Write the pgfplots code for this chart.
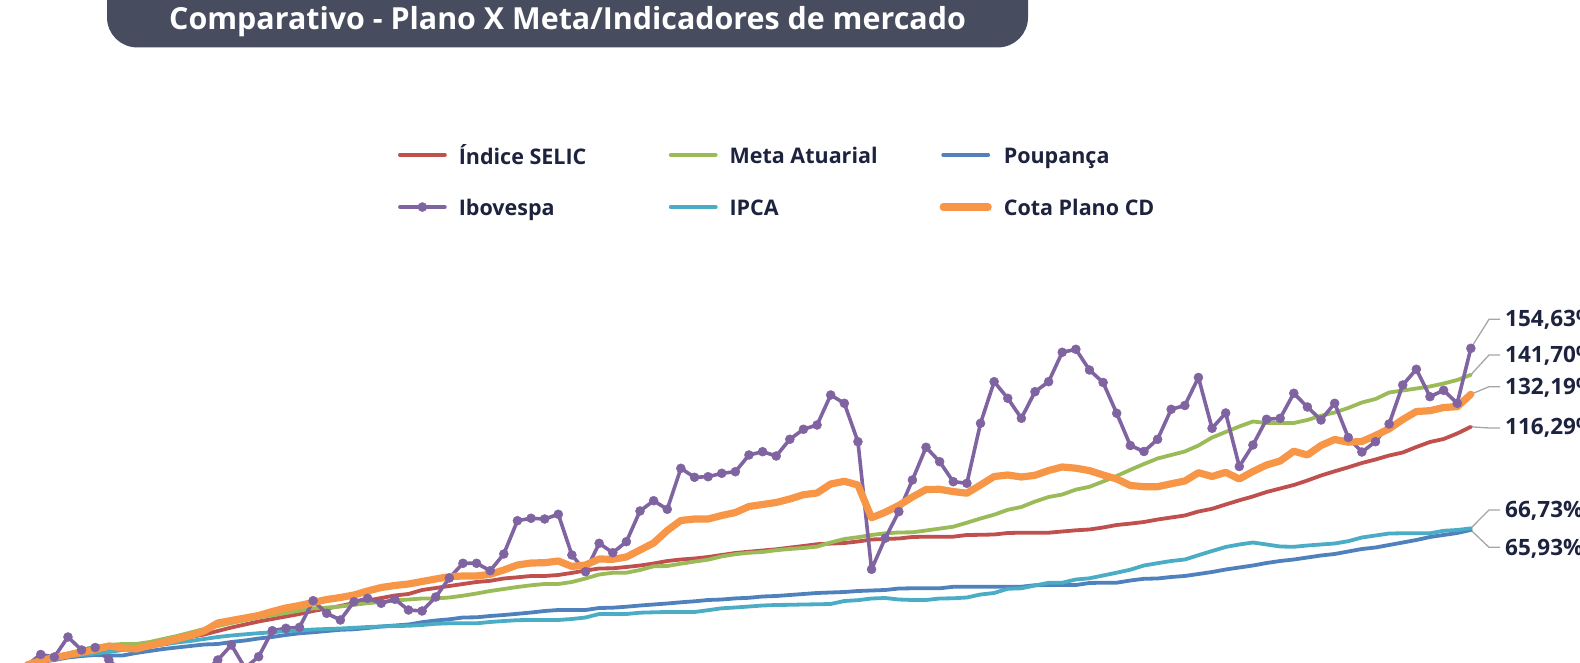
\documentclass[border=0pt]{standalone}
\usepackage{fontspec}
\setmainfont{Open Sans}
\usepackage{pgfplots}
\pgfplotsset{compat=1.18}
\definecolor{cselic}{RGB}{192,80,77}
\definecolor{cmeta}{RGB}{155,187,89}
\definecolor{cpoup}{RGB}{79,129,189}
\definecolor{cibov}{RGB}{128,100,162}
\definecolor{cipca}{RGB}{75,172,198}
\definecolor{ccota}{RGB}{247,150,70}
\definecolor{ctitle}{RGB}{71,76,95}
\definecolor{ctext}{RGB}{29,35,62}
\definecolor{clead}{RGB}{166,166,166}
\newcommand{\lblfont}{\fontsize{22.5bp}{27bp}\selectfont\bfseries}
\begin{document}
\begin{tikzpicture}[x=1bp,y=1bp]
\path[use as bounding box] (0,0) rectangle (1580,663);
\clip (0,0) rectangle (1580,663);
% title banner
\fill[ctitle, rounded corners=30bp] (107,720) rectangle (1028,615.6);
\node[anchor=base, inner sep=0pt, text=white, font=\fontsize{30.4bp}{36bp}\selectfont\bfseries] at (567.5,633.5) {Comparativo - Plano X Meta/Indicadores de mercado};
% leader lines of the end labels
\begin{scope}[draw=clead, line width=1.3bp]
\draw (1470.8,314.7) -- (1489,343.7) -- (1500,343.7);
\draw (1470.8,288.2) -- (1489,308) -- (1500,308);
\draw (1470.8,268.7) -- (1489,276.3) -- (1500,276.3);
\draw (1470.8,236.2) -- (1489,235) -- (1500,235);
\draw (1470.8,134.7) -- (1489,153) -- (1500,153);
\draw (1470.8,133) -- (1489,115.7) -- (1500,115.7);
\end{scope}
\begin{axis}[
  at={(0,0)}, anchor=south west,
  scale only axis, width=1580bp, height=663bp,
  xmin=-1.990, xmax=114.017, ymin=0.977, ymax=324.71,
  enlargelimits=false, hide axis,
  every axis plot/.append style={line join=round, line cap=round},
  legend columns=3,
  legend cell align=left,
  legend image code/.code={\draw[mark repeat=2,mark phase=2] plot coordinates {(0bp,0bp) (22.5bp,0bp) (45bp,0bp)};},
  legend style={draw=none, fill=none, at={(0.251899,0.727753)}, anchor=west,
    inner sep=0pt, outer sep=0pt, row sep=31.6bp,
    font=\fontsize{21.5bp}{26bp}\selectfont\bfseries,
    nodes={inner sep=0pt, text=ctext},
    /tikz/every odd column/.append style={column sep=12bp}},
]
\addplot[cselic, line width=3.8bp, mark=none] coordinates {
(0,0) (1,1.71) (2,3.17) (3,4.39) (4,5.86) (5,7.08) (6,8.30) (7,8.54) (8,8.79) (9,9.52)
(10,10.74) (11,12.21) (12,13.67) (13,14.89) (14,16.60) (15,18.31) (16,19.78) (17,21.24) (18,22.46) (19,23.68)
(20,24.90) (21,26.37) (22,27.59) (23,28.81) (24,30.27) (25,31.49) (26,32.71) (27,33.94) (28,34.67) (29,36.62)
(30,37.60) (31,38.57) (32,39.55) (33,40.53) (34,41.11) (35,42.24) (36,42.82) (37,43.46) (38,43.46) (39,43.95)
(40,44.97) (41,46.14) (42,47.12) (43,47.22) (44,47.85) (45,48.58) (46,49.56) (47,50.78) (48,51.51) (49,52.00)
(50,52.73) (51,53.71) (52,54.69) (53,55.32) (54,55.91) (55,56.49) (56,57.32) (57,58.11) (58,58.98) (59,59.28)
(60,59.57) (61,60.30) (62,61.28) (63,61.52) (64,61.77) (65,62.50) (66,62.65) (67,62.65) (68,62.65) (69,63.48)
(70,63.57) (71,63.72) (72,64.45) (73,64.60) (74,64.60) (75,64.60) (76,65.19) (77,65.77) (78,66.16) (79,67.14)
(80,68.36) (81,69.04) (82,69.82) (83,71.04) (84,72.02) (85,73.00) (86,74.95) (87,76.27) (88,78.37) (89,80.42)
(90,82.28) (91,84.47) (92,86.18) (93,87.89) (94,90.09) (95,92.53) (96,94.58) (97,96.53) (98,98.63) (99,100.34)
(100,102.29) (101,103.76) (102,106.45) (103,108.89) (104,110.35) (105,113.04) (106,116.29)};
\addlegendentry{\makebox[210bp][l]{\strut Índice SELIC}}
\addplot[cmeta, line width=3.8bp, mark=none] coordinates {
(0,0) (1,1.95) (2,3.66) (3,5.62) (4,7.32) (5,9.03) (6,9.77) (7,10.25) (8,10.25) (9,11.23)
(10,12.70) (11,14.16) (12,15.87) (13,17.58) (14,19.04) (15,20.51) (16,21.83) (17,23.19) (18,24.27) (19,25.39)
(20,26.56) (21,27.69) (22,28.03) (23,28.56) (24,29.39) (25,30.18) (26,30.76) (27,31.49) (28,31.98) (29,32.47)
(30,32.47) (31,32.96) (32,33.84) (33,34.91) (34,36.13) (35,37.11) (36,38.09) (37,38.92) (38,39.55) (39,39.55)
(40,40.53) (41,42.24) (42,44.19) (43,45.02) (44,45.07) (45,46.39) (46,48.19) (47,48.34) (48,49.46) (49,50.49)
(50,51.42) (51,53.03) (52,54.10) (53,54.79) (54,55.18) (55,56.05) (56,56.64) (57,57.13) (58,57.81) (59,59.81)
(60,61.52) (61,62.40) (62,63.48) (63,64.31) (64,64.70) (65,64.79) (66,65.67) (67,66.60) (68,67.53) (69,69.48)
(70,71.53) (71,73.39) (72,75.78) (73,77.15) (74,79.83) (75,82.03) (76,83.25) (77,85.64) (78,87.01) (79,89.60)
(80,92.29) (81,95.31) (82,98.14) (83,100.83) (84,102.54) (85,104.25) (86,107.18) (87,111.08) (88,113.77) (89,116.46)
(90,118.90) (91,118.16) (92,118.16) (93,118.16) (94,119.63) (95,121.73) (96,123.29) (97,125.49) (98,128.17) (99,129.88)
(100,133.06) (101,134.03) (102,135.01) (103,135.99) (104,137.45) (105,139.16) (106,141.70)};
\addlegendentry{\makebox[210bp][l]{\strut Meta Atuarial}}
\addplot[cpoup, line width=3.8bp, mark=none] coordinates {
(0,0) (1,1.46) (2,2.44) (3,3.66) (4,4.39) (5,4.88) (6,4.64) (7,4.64) (8,5.86) (9,6.84)
(10,7.81) (11,8.54) (12,9.28) (13,10.01) (14,10.25) (15,11.23) (16,11.96) (17,12.94) (18,13.67) (19,14.65)
(20,15.48) (21,15.97) (22,16.60) (23,17.19) (24,17.43) (25,18.07) (26,18.80) (27,19.29) (28,19.78) (29,20.90)
(30,21.73) (31,22.31) (32,23.19) (33,23.29) (34,23.93) (35,24.41) (36,25.00) (37,25.63) (38,26.37) (39,26.86)
(40,26.86) (41,26.86) (42,27.83) (43,27.98) (44,28.47) (45,29.05) (46,29.54) (47,30.03) (48,30.62) (49,31.10)
(50,31.74) (51,31.98) (52,32.52) (53,32.81) (54,33.45) (55,33.69) (56,34.18) (57,34.67) (58,35.16) (59,35.40)
(60,35.64) (61,36.13) (62,36.38) (63,36.62) (64,37.35) (65,37.45) (66,37.45) (67,37.45) (68,38.18) (69,38.23)
(70,38.23) (71,38.23) (72,38.23) (73,38.23) (74,38.96) (75,39.06) (76,39.06) (77,39.06) (78,40.04) (79,40.19)
(80,40.19) (81,41.26) (82,42.09) (83,42.24) (84,42.97) (85,43.46) (86,44.43) (87,45.41) (88,46.63) (89,47.61)
(90,48.58) (91,49.80) (92,50.78) (93,51.51) (94,52.49) (95,53.47) (96,54.20) (97,55.42) (98,56.64) (99,57.37)
(100,58.59) (101,59.81) (102,61.04) (103,62.50) (104,63.48) (105,64.45) (106,65.93)};
\addlegendentry{\makebox[210bp][l]{\strut Poupança}}
\addplot[cibov, line width=3.6bp, mark=*, mark size=4.5bp, mark options={solid, line width=0.5bp}] coordinates {
(0,0) (1,5.13) (2,3.91) (3,13.67) (4,7.32) (5,8.54) (6,2.44) (7,-3.42) (8,-7.32) (9,-5.37)
(10,-9.28) (11,-12.21) (12,-8.30) (13,-3.42) (14,2.44) (15,9.77) (16,-1.46) (17,4.05) (18,16.75) (19,17.92)
(20,18.41) (21,31.40) (22,25.24) (23,21.97) (24,30.91) (25,32.57) (26,30.13) (27,32.08) (28,26.86) (29,26.37)
(30,33.20) (31,42.48) (32,49.66) (33,49.66) (34,46.04) (35,54.20) (36,70.46) (37,71.63) (38,71.29) (39,73.58)
(40,53.71) (41,45.56) (42,59.42) (43,54.83) (44,60.21) (45,75.20) (46,80.22) (47,76.03) (48,96.04) (49,91.65)
(50,91.94) (51,93.60) (52,94.38) (53,102.54) (54,104.15) (55,102.05) (56,110.21) (57,115.09) (58,117.19) (59,131.84)
(60,127.78) (61,109.03) (62,46.73) (63,61.87) (64,74.85) (65,90.33) (66,106.30) (67,99.27) (68,89.50) (69,88.72)
(70,118.02) (71,138.33) (72,130.22) (73,120.46) (74,133.45) (75,138.33) (76,152.69) (77,154.15) (78,144.04) (79,137.94)
(80,122.90) (81,107.18) (82,104.25) (83,110.21) (84,124.85) (85,126.71) (86,140.38) (87,115.58) (88,123.05) (89,96.92)
(90,107.42) (91,119.97) (92,120.46) (93,132.67) (94,125.98) (95,119.63) (96,127.78) (97,111.08) (98,104.00) (99,109.03)
(100,117.68) (101,136.72) (102,144.38) (103,131.01) (104,134.13) (105,127.78) (106,154.63)};
\addlegendentry{\makebox[210bp][l]{\strut Ibovespa}}
\addplot[cipca, line width=3.8bp, mark=none] coordinates {
(0,0) (1,1.95) (2,3.17) (3,4.39) (4,4.88) (5,5.62) (6,6.35) (7,7.32) (8,8.54) (9,9.03)
(10,10.01) (11,10.99) (12,11.72) (13,12.70) (14,13.67) (15,14.40) (16,14.99) (17,15.53) (18,15.97) (19,16.60)
(20,16.85) (21,17.33) (22,17.58) (23,17.82) (24,18.16) (25,18.55) (26,18.80) (27,19.04) (28,19.14) (29,19.53)
(30,20.12) (31,20.36) (32,20.36) (33,20.36) (34,21.00) (35,21.48) (36,21.88) (37,21.97) (38,21.97) (39,21.97)
(40,22.46) (41,23.19) (42,24.90) (43,24.90) (44,24.90) (45,25.54) (46,25.73) (47,25.88) (48,25.88) (49,25.88)
(50,26.76) (51,27.69) (52,28.08) (53,28.56) (54,29.05) (55,29.30) (56,29.39) (57,29.54) (58,29.64) (59,29.79)
(60,31.25) (61,31.64) (62,32.47) (63,32.71) (64,31.98) (65,31.74) (66,31.74) (67,32.47) (68,32.57) (69,32.96)
(70,34.42) (71,35.16) (72,37.21) (73,37.45) (74,38.82) (75,40.14) (76,40.19) (77,41.75) (78,42.33) (79,43.70)
(80,45.07) (81,46.53) (82,48.58) (83,49.71) (84,50.78) (85,51.51) (86,53.61) (87,55.66) (88,57.62) (89,58.84)
(90,59.81) (91,58.84) (92,57.86) (93,57.71) (94,58.35) (95,58.84) (96,59.33) (97,60.45) (98,62.26) (99,63.23)
(100,64.21) (101,64.31) (102,64.31) (103,64.31) (104,65.53) (105,65.92) (106,66.73)};
\addlegendentry{\makebox[210bp][l]{\strut IPCA}}
\addplot[ccota, line width=7.2bp, mark=none] coordinates {
(0,0) (1,2.20) (2,3.61) (3,4.88) (4,6.20) (5,7.52) (6,9.28) (7,8.30) (8,7.81) (9,9.52)
(10,10.99) (11,12.70) (12,14.40) (13,16.60) (14,20.51) (15,21.73) (16,22.95) (17,24.17) (18,26.12) (19,27.83)
(20,29.05) (21,30.52) (22,31.98) (23,32.96) (24,34.18) (25,36.13) (26,37.84) (27,38.82) (28,39.55) (29,40.77)
(30,41.99) (31,43.12) (32,43.46) (33,43.46) (34,44.29) (35,46.39) (36,48.83) (37,49.80) (38,49.95) (39,50.78)
(40,48.10) (41,48.83) (42,51.76) (43,51.61) (44,52.73) (45,56.15) (46,59.57) (47,65.67) (48,70.56) (49,71.29)
(50,71.29) (51,73.00) (52,74.46) (53,77.39) (54,78.37) (55,79.35) (56,81.05) (57,83.15) (58,83.98) (59,88.38)
(60,89.70) (61,87.89) (62,71.88) (63,74.56) (64,77.88) (65,82.03) (66,85.69) (67,85.79) (68,84.67) (69,83.89)
(70,87.89) (71,92.04) (72,92.77) (73,91.80) (74,92.63) (75,94.97) (76,96.68) (77,96.09) (78,94.92) (79,92.77)
(80,90.82) (81,87.65) (82,87.06) (83,87.06) (84,88.48) (85,89.84) (86,93.90) (87,92.04) (88,94.09) (89,90.82)
(90,94.48) (91,97.66) (92,99.61) (93,104.39) (94,102.54) (95,107.18) (96,110.11) (97,108.79) (98,109.13) (99,112.06)
(100,115.33) (101,119.87) (102,123.78) (103,124.17) (104,125.73) (105,126.12) (106,132.19)};
\addlegendentry{\makebox[210bp][l]{\strut Cota Plano CD}}
\end{axis}
% end labels
\begin{scope}[every node/.style={anchor=base west, inner sep=0pt, text=ctext, font=\lblfont}]
\node at (1505,336.7) {154,63\%};
\node at (1505,300) {141,70\%};
\node at (1505,268.3) {132,19\%};
\node at (1505,228.3) {116,29\%};
\node at (1505,145) {66,73\%};
\node at (1505,107.7) {65,93\%};
\end{scope}
\end{tikzpicture}
\end{document}
